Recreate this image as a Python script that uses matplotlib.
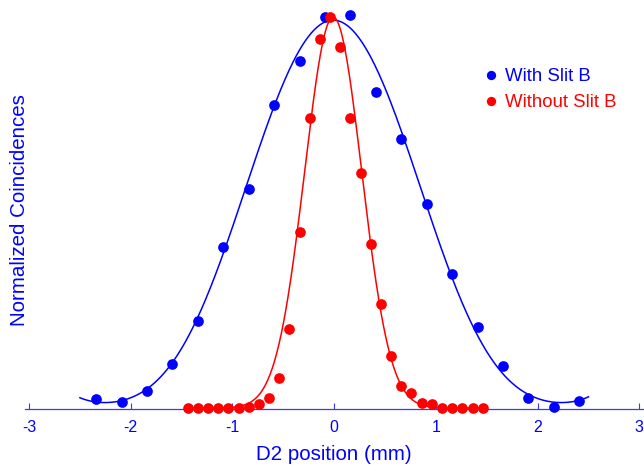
import numpy as np
import matplotlib
matplotlib.use("Agg")
import matplotlib.pyplot as plt
from matplotlib.lines import Line2D

plt.rcParams['font.family'] = ['Liberation Sans', 'DejaVu Sans']

# ---- data ----
blue_x = [-2.34, -2.09, -1.84, -1.59, -1.34, -1.09, -0.84, -0.59, -0.34, -0.09,
          0.16, 0.41, 0.66, 0.91, 1.16, 1.41, 1.66, 1.91, 2.16, 2.41]
blue_y = [0.023, 0.016, 0.043, 0.112, 0.223, 0.412, 0.560, 0.775, 0.887, 1.000,
          1.005, 0.808, 0.688, 0.522, 0.343, 0.208, 0.107, 0.025, 0.003, 0.018]

red_x = [-1.44, -1.34, -1.24, -1.14, -1.04, -0.94, -0.84, -0.74, -0.64, -0.54,
         -0.44, -0.34, -0.24, -0.14, -0.04, 0.06, 0.16, 0.26, 0.36, 0.46,
         0.56, 0.66, 0.76, 0.86, 0.96, 1.06, 1.16, 1.26, 1.36, 1.46]
red_y = [0.0, 0.0, 0.0, 0.0, 0.0, 0.0, 0.002, 0.010, 0.026, 0.076,
         0.203, 0.450, 0.741, 0.943, 1.000, 0.924, 0.741, 0.601, 0.419, 0.266,
         0.134, 0.057, 0.038, 0.013, 0.009, 0.0, 0.0, 0.0, 0.0, 0.0]

xticks = [-3, -2, -1, 0, 1, 2, 3]
xtick_labels = ['-3', '-2', '-1', '0', '1', '2', '3']

series_labels = ['With Slit B', 'Without Slit B']

# fit-curve parameters
blue_amp, blue_x0, blue_w, blue_v, blue_k, blue_end = 0.992, -0.01, 1.173, 2.09, 0.026, 2.5
red_amp, red_x0, red_sigma = 1.0, -0.01, 0.28
blue_fit_range = (-2.5, 2.5)
red_fit_range = (-1.45, 1.45)

BLUE = '#0000ff'
RED = '#ff0000'

fig = plt.figure(figsize=(6.44, 4.68), dpi=100)
ax = fig.add_axes([25 / 644, 59 / 468, 619.4 / 644, 409 / 468])
ax.set_xlim(-3.04, 3.05)
ax.set_ylim(-1 / 391, 408 / 391)

bx = np.linspace(*blue_fit_range, 500)
bd = bx - blue_x0
by = (blue_amp * np.exp(-(bd / blue_w) ** 2 - (bd / blue_v) ** 4)
      + blue_k * (bd / blue_end) ** 12)
ax.plot(bx, by, color=BLUE, lw=1.1, zorder=2)

rx = np.linspace(*red_fit_range, 400)
ry = red_amp * np.exp(-(rx - red_x0) ** 2 / (2 * red_sigma ** 2))
ax.plot(rx, ry, color=RED, lw=1.1, zorder=2)

ax.plot(blue_x, blue_y, 'o', color=BLUE, ms=7.7, mew=0, clip_on=False, zorder=3)
ax.plot(red_x, red_y, 'o', color=RED, ms=7.7, mew=0, clip_on=False, zorder=4)

for s in ['top', 'right', 'left']:
    ax.spines[s].set_visible(False)
ax.spines['bottom'].set_color('#3a3aff')
ax.spines['bottom'].set_linewidth(0.9)
ax.set_yticks([])
ax.set_xticks(xticks)
ax.set_xticklabels(xtick_labels)
ax.tick_params(axis='x', direction='in', length=4.5, width=0.8, color='#3a3aff',
               labelcolor=BLUE, labelsize=11.5, pad=8)

handles = [Line2D([], [], ls='none', marker='o', color=BLUE, ms=6.7, mew=0),
           Line2D([], [], ls='none', marker='o', color=RED, ms=6.7, mew=0)]
ax.legend(handles, series_labels, loc='upper left', bbox_to_anchor=(0.7368, 0.8333),
          frameon=False, fontsize=13.4, handlelength=1.0, handletextpad=0.27,
          borderpad=0, borderaxespad=0, labelspacing=0.48, labelcolor='linecolor')

fig.text(20 / 644, 1 - 210 / 468, 'Normalized Coincidences', rotation=90,
         ha='center', va='center', color=BLUE, fontsize=14.8)
fig.text(333.5 / 644, 1 - 454 / 468, 'D2 position (mm)', ha='center', va='center',
         color=BLUE, fontsize=14.8)

fig.savefig('out.png', dpi=100)
